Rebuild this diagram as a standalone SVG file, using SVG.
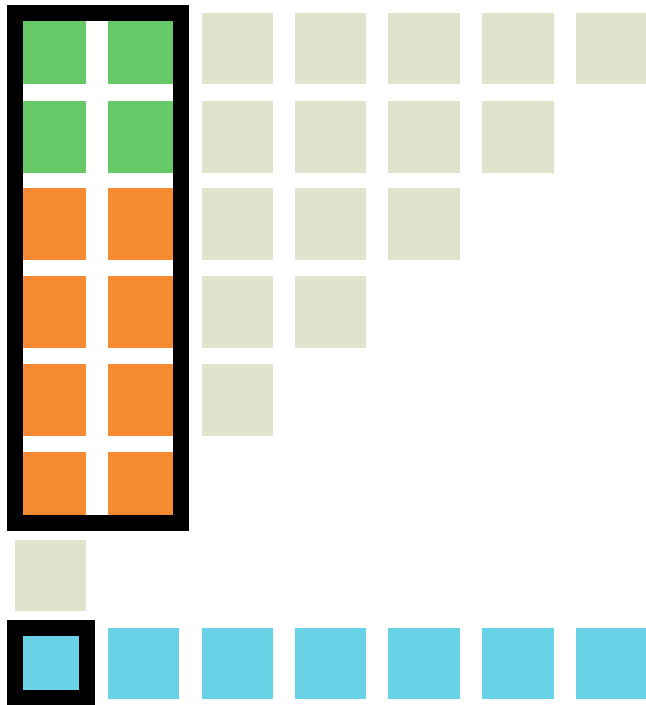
<svg xmlns="http://www.w3.org/2000/svg" width="646" height="705" viewBox="0 0 646 705">
<style>
.g{fill:#66c866}.o{fill:#f68a33}.e{fill:#e1e4cc}.b{fill:#68d2e6}
.frame{fill:none;stroke:#000;stroke-width:16}
</style>
<rect width="646" height="705" fill="#fff"/>
<g id="left-block">
<rect class="g" x="15" y="13" width="71" height="71"/>
<rect class="g" x="108" y="13" width="71" height="71"/>
<rect class="g" x="15" y="101" width="71" height="72"/>
<rect class="g" x="108" y="101" width="71" height="72"/>
<rect class="o" x="15" y="188" width="71" height="72"/>
<rect class="o" x="108" y="188" width="71" height="72"/>
<rect class="o" x="15" y="276" width="71" height="72"/>
<rect class="o" x="108" y="276" width="71" height="72"/>
<rect class="o" x="15" y="364" width="71" height="72"/>
<rect class="o" x="108" y="364" width="71" height="72"/>
<rect class="o" x="15" y="452" width="71" height="72"/>
<rect class="o" x="108" y="452" width="71" height="72"/>
<rect class="frame" x="15" y="13" width="166" height="510"/>
</g>
<g id="triangle">
<rect class="e" x="202" y="13" width="71" height="71"/>
<rect class="e" x="295" y="13" width="71" height="71"/>
<rect class="e" x="388" y="13" width="72" height="71"/>
<rect class="e" x="482" y="13" width="72" height="71"/>
<rect class="e" x="576" y="13" width="70" height="71"/>
<rect class="e" x="202" y="101" width="71" height="72"/>
<rect class="e" x="295" y="101" width="71" height="72"/>
<rect class="e" x="388" y="101" width="72" height="72"/>
<rect class="e" x="482" y="101" width="72" height="72"/>
<rect class="e" x="202" y="188" width="71" height="72"/>
<rect class="e" x="295" y="188" width="71" height="72"/>
<rect class="e" x="388" y="188" width="72" height="72"/>
<rect class="e" x="202" y="276" width="71" height="72"/>
<rect class="e" x="295" y="276" width="71" height="72"/>
<rect class="e" x="202" y="364" width="71" height="72"/>
</g>
<g id="single">
<rect class="e" x="15" y="540" width="71" height="71"/>
</g>
<g id="bottom-row">
<rect class="b frame-cell" x="15" y="628" width="72" height="70" stroke="#000" stroke-width="16"/>
<rect class="b" x="108" y="628" width="71" height="71"/>
<rect class="b" x="202" y="628" width="71" height="71"/>
<rect class="b" x="295" y="628" width="71" height="71"/>
<rect class="b" x="388" y="628" width="72" height="71"/>
<rect class="b" x="482" y="628" width="72" height="71"/>
<rect class="b" x="576" y="628" width="70" height="71"/>
</g>
</svg>
